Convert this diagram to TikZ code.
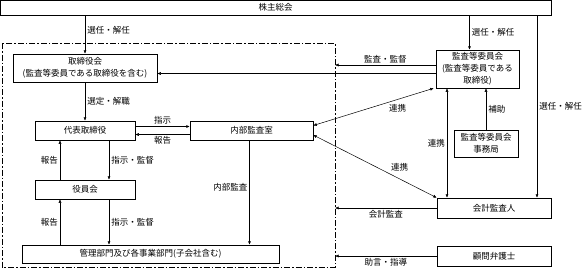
\documentclass[tikz,border=0pt]{standalone}
\usepackage{fontspec}
\setmainfont{Noto Sans CJK JP}
\usetikzlibrary{arrows.meta,calc}
\tikzset{
  box/.style   = { draw, line width=0.5pt, align=center, inner sep=0.5pt, font=\fontsize{8.5}{12}\selectfont },
  arr/.style   = { line width=0.5pt, -{Latex[length=3.5pt,width=3pt]} },
  darr/.style  = { line width=0.5pt, {Latex[length=3.5pt,width=3pt]}-{Latex[length=3.5pt,width=3pt]} },
  frame/.style = { line width=0.9pt, dash pattern=on 6pt off 2pt on 1.5pt off 2pt },
  lbl/.style   = { font=\fontsize{8.5}{12}\selectfont, inner sep=2pt },
}
\begin{document}
\begin{tikzpicture}[x=1pt,y=-1pt]
    \useasboundingbox (0,0) rectangle (586,277);

    % Boxes
    \node[box, minimum width=551pt, minimum height=15pt] (kabu) at (275.5,7.5) {株主総会};
    \node[box, minimum width=144pt, minimum height=28pt] (torishimari) at (85,68) {取締役会\\(監査等委員である取締役を含む)};
    \node[box, minimum width=100pt, minimum height=19pt] (daihyo) at (85,130.5) {代表取締役};
    \node[box, minimum width=123pt, minimum height=19pt] (naibu) at (251.5,130.5) {内部監査室};
    \node[box, minimum width=100pt, minimum height=19pt] (yakuin) at (85,189.5) {役員会};
    \node[box, minimum width=257pt, minimum height=18pt] (kanri) at (150.5,254) {管理部門及び各事業部門(子会社含む)};

    \node[box, minimum width=83pt, minimum height=38pt] (kansa) at (477.5,69) {監査等委員会\\(監査等委員である\\取締役)};
    \node[box, minimum width=64pt, minimum height=27pt] (jimu) at (486,143.5) {監査等委員会\\事務局};
    \node[box, minimum width=114pt, minimum height=20pt] (kaikei) at (494,208) {会計監査人};
    \node[box, minimum width=114pt, minimum height=20pt] (komon) at (494,256) {顧問弁護士};

    % Frame
    \coordinate (fr1) at (2,43);
    \coordinate (fr2) at (335,267);
    \draw[frame] (fr1) rectangle (fr2);

    % left side
    \draw[arr] (kabu.south -| torishimari) -- node[lbl, right, pos=0.4] {選任・解任} (torishimari.north);
    \draw[arr] (torishimari.south) -- node[lbl, right] {選定・解職} (daihyo.north);
    \draw[arr] ([yshift=4pt]daihyo.east) -- node[lbl, above] {指示} ([yshift=4pt]naibu.west);
    \draw[arr] ([yshift=-4pt]naibu.west) -- node[lbl, below] {報告} ([yshift=-4pt]daihyo.east);

    \draw[arr] ([xshift=-25pt]yakuin.north) -- node[lbl, left] {報告} ([xshift=-25pt]daihyo.south);
    \draw[arr] ([xshift=24pt]daihyo.south) -- node[lbl, right] {指示・監督} ([xshift=24pt]yakuin.north);
    \coordinate (r1) at ([xshift=-25pt]yakuin.south);
    \coordinate (r2) at ([xshift=24pt]yakuin.south);
    \draw[arr] (r1 |- kanri.north) -- node[lbl, left] {報告} (r1);
    \draw[arr] (r2) -- node[lbl, right] {指示・監督} (r2 |- kanri.north);
    \draw[arr] ([xshift=-2pt]naibu.south) -- node[lbl, left, pos=0.45] {内部監査} ([xshift=-2pt]naibu.south |- kanri.north);

    % right side
    \coordinate (k1) at ([xshift=-8pt]kansa.north);
    \draw[arr] (k1 |- kabu.south) -- node[lbl, right] {選任・解任} (k1);
    \coordinate (k2) at ([yshift=4pt]kansa.west);
    \draw[arr] (k2) -- node[lbl, above] {監査・監督} (k2 -| fr2);
    \coordinate (k3) at ([yshift=-4.5pt]kansa.west);
    \draw[arr] (k3) -- (k3 -| torishimari.east);
    \draw[arr] (jimu.north) -- node[lbl, right] {補助} (jimu.north |- kansa.south);
    \coordinate (k4) at ([xshift=-30.5pt]kansa.south);
    \draw[darr] (k4) -- node[lbl, left] {連携} (k4 |- kaikei.north);
    \draw[darr] ([xshift=-2pt]kansa.south west) -- node[lbl, below=3pt, pos=0.3] {連携} ([yshift=5pt]naibu.east);
    \draw[darr] ([yshift=-4.5pt]naibu.east) -- node[lbl, above=5pt, pos=0.7] {連携} (kaikei.north west);
    \coordinate (k5) at ([xshift=43pt]kaikei.north);
    \draw[arr] (k5 |- kabu.south) -- node[lbl, right] {選任・解任} (k5);

    \draw[arr] (kaikei.west) -- node[lbl, below] {会計監査} (kaikei.west -| fr2);
    \draw[arr] (komon.west) -- node[lbl, below] {助言・指導} (komon.west -| fr2);
\end{tikzpicture}
\end{document}
